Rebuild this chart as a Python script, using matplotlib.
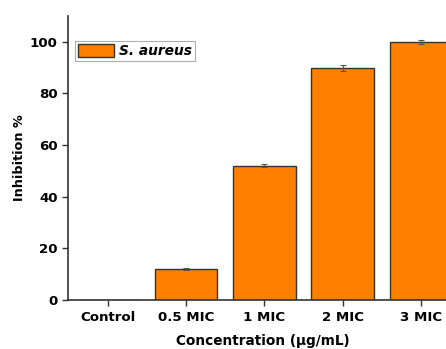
import matplotlib
matplotlib.use("Agg")
import matplotlib.pyplot as plt

categories = ["Control", "0.5 MIC", "1 MIC", "2 MIC", "3 MIC"]
inhibition = [0, 12, 52, 90, 100]
errors = [0, 0.5, 0.5, 1.2, 0.7]
series_name = "S. aureus"

plt.rcParams["font.family"] = ["DejaVu Sans"]
plt.rcParams["font.weight"] = "bold"

fig = plt.figure(figsize=(4.46, 3.49), dpi=100)
ax = fig.add_axes([0.1525, 0.1404, 0.8475, 0.8136])

x = range(len(categories))
ax.bar(x, inhibition, width=0.8, color="#FF8000", edgecolor="#333333",
       linewidth=1.0, label=series_name, zorder=2)
ax.errorbar(x, inhibition, yerr=errors, fmt="none", ecolor="#555555",
            elinewidth=0.9, capsize=2.5, capthick=0.8, zorder=3)

ax.set_xlim(-0.51, 4.32)
ax.set_ylim(0, 110)
ax.set_xticks(list(x))
ax.set_xticklabels(categories, fontsize=9.6, fontweight="bold")
ax.set_yticks([0, 20, 40, 60, 80, 100])
ax.tick_params(axis="y", labelsize=9.6, direction="out", length=4, width=1, color="#333333")
ax.tick_params(axis="x", direction="out", length=4, width=1, color="#333333", pad=4)
for lbl in ax.get_yticklabels():
    lbl.set_fontweight("bold")

for side in ["top", "right"]:
    ax.spines[side].set_visible(False)
for side in ["left", "bottom"]:
    ax.spines[side].set_color("#333333")
    ax.spines[side].set_linewidth(1.2)

ax.set_xlabel("Concentration (μg/mL)", fontsize=9.8, fontweight="bold", labelpad=7)
ax.xaxis.label.set_x(0.515)
ax.set_ylabel("Inhibition %", fontsize=9.2, fontweight="bold", labelpad=0)
ax.yaxis.set_label_coords(-0.112, 0.5)

leg = ax.legend(loc="upper left", bbox_to_anchor=(0.0185, 0.912), borderaxespad=0,
                frameon=True, fancybox=False, edgecolor="#999999", handlelength=2.6,
                handleheight=1.15, borderpad=0.2, handletextpad=0.4,
                prop={"weight": "bold", "style": "italic", "size": 9.9})
leg.get_frame().set_linewidth(0.8)

fig.savefig("out.png", dpi=100)
